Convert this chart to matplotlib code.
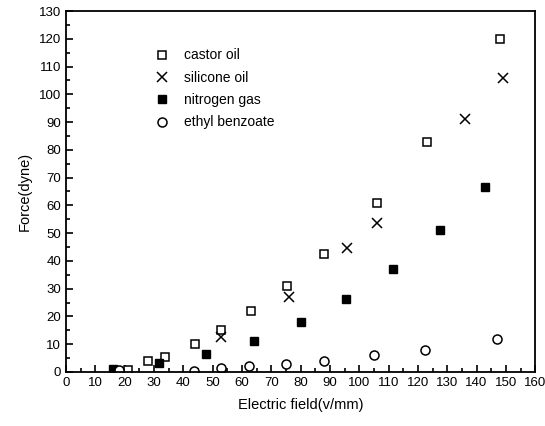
import numpy as np
import matplotlib.pyplot as plt
from matplotlib.ticker import MultipleLocator

plt.rcParams['font.family'] = ['Liberation Sans', 'DejaVu Sans']

# ---------------- data ----------------
castor_x = [21, 28, 33.8, 44, 53, 63, 75.5, 88, 106, 123, 148]
castor_y = [0.8, 4, 5.3, 10, 15, 22, 31, 42.5, 61, 83, 120]

silicone_x = [53, 76, 96, 106, 136, 149]
silicone_y = [12.5, 27, 44.5, 53.5, 91, 106]

nitrogen_x = [16, 31.8, 47.8, 64, 80, 95.5, 111.5, 127.5, 143]
nitrogen_y = [1, 3.2, 6.3, 11, 18, 26.3, 37, 51.3, 66.5]

ethyl_x = [18, 43.5, 53, 62.5, 75, 88, 105, 122.5, 147]
ethyl_y = [0.8, 0.5, 1.5, 2, 3, 4, 6, 8, 12]

fig = plt.figure(figsize=(5.45, 4.26), dpi=100)
ax = fig.add_axes([0.121, 0.127, 0.861, 0.847])

ax.plot(castor_x, castor_y, ls='none', marker='s', ms=6, mfc='white',
        mec='black', mew=1.1, label='castor oil')
ax.plot(silicone_x, silicone_y, ls='none', marker='x', ms=7,
        mec='black', mew=1.1, label='silicone oil')
ax.plot(nitrogen_x, nitrogen_y, ls='none', marker='s', ms=6, mfc='black',
        mec='black', mew=1.0, label='nitrogen gas')
ax.plot(ethyl_x, ethyl_y, ls='none', marker='o', ms=6.5, mfc='white',
        mec='black', mew=1.1, label='ethyl benzoate')

ax.set_xlim(0, 160)
ax.set_ylim(0, 130)
ax.xaxis.set_major_locator(MultipleLocator(10))
ax.xaxis.set_minor_locator(MultipleLocator(5))
ax.yaxis.set_major_locator(MultipleLocator(10))
ax.yaxis.set_minor_locator(MultipleLocator(5))
ax.tick_params(which='both', direction='in', top=False, right=False,
               labelsize=9.5, width=1.2)
ax.tick_params(which='major', length=5)
ax.tick_params(which='minor', length=3)
for s in ax.spines.values():
    s.set_linewidth(1.3)

ax.set_xlabel('Electric field(v/mm)', fontsize=10.5, labelpad=7)
ax.set_ylabel('Force(dyne)', fontsize=10.5, labelpad=5)

ax.legend(loc='upper left', bbox_to_anchor=(0.178, 0.912), frameon=False,
          fontsize=10, handlelength=1.0, handletextpad=1.1,
          labelspacing=0.6, borderaxespad=0)

fig.savefig('out.png', dpi=100)
